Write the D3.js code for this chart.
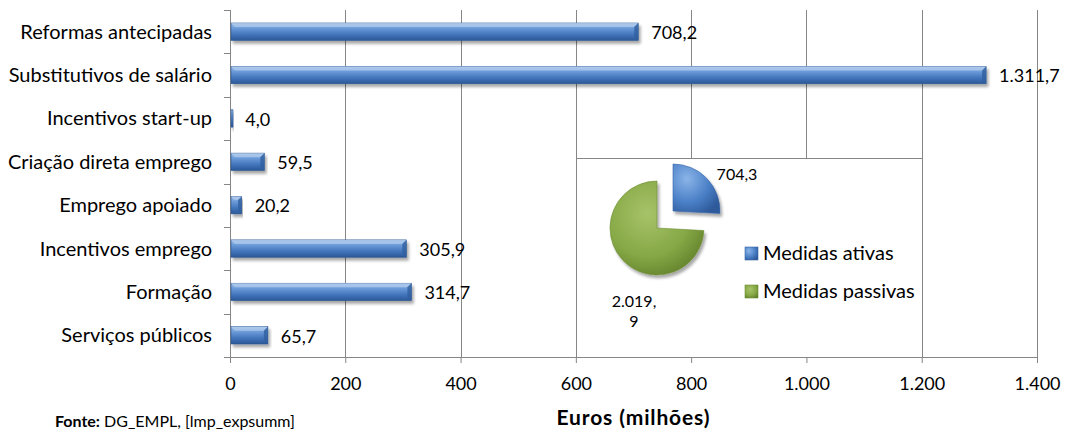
<!DOCTYPE html>
<html>
<head>
<meta charset="utf-8">
<script src="https://cdn.jsdelivr.net/npm/d3@7"></script>
<style>
  html, body { margin: 0; padding: 0; background: #fff; }
  svg { display: block; font-family: Lato, "Open Sans", sans-serif; }
</style>
</head>
<body>
<svg id="chart" width="1066" height="432"></svg>
<script>
// Expenditure by measure type (EUR millions)
const categories = [
  "Reformas antecipadas",
  "Substitutivos de salário",
  "Incentivos start-up",
  "Criação direta emprego",
  "Emprego apoiado",
  "Incentivos emprego",
  "Formação",
  "Serviços públicos"
];
const values = [708.2, 1311.7, 4.0, 59.5, 20.2, 305.9, 314.7, 65.7];
const valueLabels = ["708,2", "1.311,7", "4,0", "59,5", "20,2", "305,9", "314,7", "65,7"];

const xTicks = [0, 200, 400, 600, 800, 1000, 1200, 1400];
const xTickLabels = ["0", "200", "400", "600", "800", "1.000", "1.200", "1.400"];

// Inset pie: active vs passive measures
const pieNames = ["Medidas ativas", "Medidas passivas"];
const pieValues = [704.3, 2019.9];
const pieLabels = [["704,3"], ["2.019,", "9"]];

const svg = d3.select("#chart");
const defs = svg.append("defs");

const plot = { left: 230, right: 1037, top: 10, bottom: 357 };

const x = d3.scaleLinear().domain([0, 1400]).range([plot.left, plot.right]);
const y = d3.scaleBand().domain(categories).range([plot.top, plot.bottom]).paddingInner(0.6).paddingOuter(0.3);

// Gradients
const barGrad = defs.append("linearGradient").attr("id", "barGrad").attr("x1", 0).attr("y1", 0).attr("x2", 0).attr("y2", 1);
barGrad.append("stop").attr("offset", "0%").attr("stop-color", "#9dbfe9");
barGrad.append("stop").attr("offset", "30%").attr("stop-color", "#6b9ad8");
barGrad.append("stop").attr("offset", "65%").attr("stop-color", "#4376bd");
barGrad.append("stop").attr("offset", "100%").attr("stop-color", "#2b5797");

const shadow = defs.append("filter").attr("id", "shadow").attr("x", "-5%").attr("y", "-30%").attr("width", "115%").attr("height", "190%");
shadow.append("feGaussianBlur").attr("in", "SourceAlpha").attr("stdDeviation", 1.5);
shadow.append("feOffset").attr("dx", 1.5).attr("dy", 2.5).attr("result", "off");
shadow.append("feComponentTransfer").append("feFuncA").attr("type", "linear").attr("slope", 0.35);
const sm = shadow.append("feMerge");
sm.append("feMergeNode");
sm.append("feMergeNode").attr("in", "SourceGraphic");

// Vertical gridlines
svg.append("g").selectAll("line").data(xTicks.slice(1)).join("line")
  .attr("x1", d => Math.round(x(d)) + 0.5).attr("x2", d => Math.round(x(d)) + 0.5)
  .attr("y1", plot.top).attr("y2", plot.bottom)
  .attr("stroke", "#868686").attr("stroke-width", 1);

// X axis
const xAxis = d3.axisBottom(x).tickValues(xTicks).tickFormat((d, i) => xTickLabels[i]).tickSize(6).tickPadding(14);
const gx = svg.append("g").attr("transform", `translate(0,${plot.bottom})`).call(xAxis);
gx.select(".domain").attr("stroke", "#868686").attr("d", `M${plot.left},0.5H${plot.right}`);
gx.selectAll(".tick line").attr("stroke", "#868686");
gx.selectAll(".tick text").attr("font-size", 18).attr("fill", "#000").style("font-family", "Lato, sans-serif");

// Y axis (ticks at category boundaries)
const bandStep = (plot.bottom - plot.top) / categories.length;
const boundaries = d3.range(categories.length + 1).map(i => plot.top + i * bandStep);
svg.append("line").attr("x1", plot.left + 0.5).attr("x2", plot.left + 0.5)
  .attr("y1", plot.top).attr("y2", plot.bottom).attr("stroke", "#868686");
svg.append("g").selectAll("line").data(boundaries).join("line")
  .attr("x1", plot.left - 6).attr("x2", plot.left)
  .attr("y1", d => Math.round(d) + 0.5).attr("y2", d => Math.round(d) + 0.5)
  .attr("stroke", "#868686");

svg.append("g").selectAll("text").data(categories).join("text")
  .attr("x", plot.left - 18)
  .attr("y", d => y(d) + y.bandwidth() / 2)
  .attr("dy", "0.35em")
  .attr("text-anchor", "end")
  .attr("font-size", 20)
  .attr("fill", "#000")
  .text(d => d);

// Bars with bevelled ends
const bars = svg.append("g").selectAll("g").data(categories).join("g");
bars.append("rect")
  .attr("x", plot.left + 1)
  .attr("y", d => y(d))
  .attr("width", (d, i) => Math.max(2, x(values[i]) - plot.left - 1))
  .attr("height", y.bandwidth())
  .attr("fill", "url(#barGrad)")
  .attr("stroke", "#2a5590").attr("stroke-width", 0.6)
  .attr("filter", "url(#shadow)");
// bevel highlights
bars.append("path")
  .attr("d", (d, i) => {
    const x0 = plot.left + 1, x1 = x(values[i]), y0 = y(d);
    const b = Math.min(4, (x1 - x0) / 3);
    if (x1 - x0 < 4) return "";
    return `M${x0},${y0}L${x0 + b},${y0 + b}L${x1 - b},${y0 + b}L${x1},${y0}Z`;
  })
  .attr("fill", "#b3cdee").attr("opacity", 0.7);
bars.append("path")
  .attr("d", (d, i) => {
    const x0 = plot.left + 1, x1 = x(values[i]), y0 = y(d), h = y.bandwidth();
    const b = Math.min(4, (x1 - x0) / 3);
    if (x1 - x0 < 4) return "";
    return `M${x1},${y0}L${x1 - b},${y0 + b}L${x1 - b},${y0 + h - b}L${x1},${y0 + h}Z`;
  })
  .attr("fill", "#2f5f9f").attr("opacity", 0.8);

// Value labels
svg.append("g").selectAll("text").data(categories).join("text")
  .attr("x", (d, i) => x(values[i]) + 13)
  .attr("y", d => y(d) + y.bandwidth() / 2 + 1)
  .attr("dy", "0.35em")
  .attr("font-size", 18)
  .attr("fill", "#000")
  .text((d, i) => valueLabels[i]);

// Inset panel for the pie
const inset = { x0: Math.round(x(600)), x1: Math.round(x(1200)), y0: 158, y1: plot.bottom };
svg.append("rect")
  .attr("x", inset.x0 + 0.5).attr("y", inset.y0 + 0.5)
  .attr("width", inset.x1 - inset.x0).attr("height", inset.y1 - inset.y0)
  .attr("fill", "#fff").attr("stroke", "#868686");

const blueGrad = defs.append("radialGradient").attr("id", "pieBlue").attr("cx", "30%").attr("cy", "30%").attr("r", "80%");
blueGrad.append("stop").attr("offset", "0%").attr("stop-color", "#8ab4e8");
blueGrad.append("stop").attr("offset", "60%").attr("stop-color", "#4a7fc6");
blueGrad.append("stop").attr("offset", "100%").attr("stop-color", "#2d5a9a");
const greenGrad = defs.append("radialGradient").attr("id", "pieGreen").attr("cx", "40%").attr("cy", "35%").attr("r", "75%");
greenGrad.append("stop").attr("offset", "0%").attr("stop-color", "#a7c36a");
greenGrad.append("stop").attr("offset", "60%").attr("stop-color", "#86a845");
greenGrad.append("stop").attr("offset", "100%").attr("stop-color", "#5f7d2a");

const pie = d3.pie().sort(null).value(d => d);
const arcs = pie(pieValues);
const radius = 47;
const arc = d3.arc().innerRadius(0).outerRadius(radius);
const pieCenter = [657, 228];
const explode = [16, -17];
const pieG = svg.append("g").attr("filter", "url(#shadow)");
pieG.selectAll("path").data(arcs).join("path")
  .attr("transform", (d, i) => i === 0
    ? `translate(${pieCenter[0] + explode[0]},${pieCenter[1] + explode[1]})`
    : `translate(${pieCenter[0]},${pieCenter[1]})`)
  .attr("d", arc)
  .attr("fill", (d, i) => i === 0 ? "url(#pieBlue)" : "url(#pieGreen)")
  .attr("stroke", (d, i) => i === 0 ? "#3a67a8" : "#6e8f36").attr("stroke-width", 0.6);

// Pie labels
const pieLabelPos = [[737, 174], [634, 301]];
pieLabels.forEach((lines, i) => {
  const t = svg.append("text")
    .attr("x", pieLabelPos[i][0]).attr("y", pieLabelPos[i][1])
    .attr("text-anchor", "middle").attr("font-size", 16).attr("fill", "#000");
  lines.forEach((ln, j) => t.append("tspan").attr("x", pieLabelPos[i][0]).attr("dy", j === 0 ? "0.35em" : "1.3em").text(ln));
});

// Pie legend
const legend = svg.append("g").attr("transform", "translate(745,253)");
const legendFill = ["url(#pieBlue)", "url(#pieGreen)"];
pieNames.forEach((n, i) => {
  const g = legend.append("g").attr("transform", `translate(0,${i * 38})`);
  g.append("rect").attr("x", 0).attr("y", -6).attr("width", 13).attr("height", 13)
    .attr("fill", legendFill[i]).attr("stroke", i === 0 ? "#3a67a8" : "#6e8f36").attr("stroke-width", 0.6);
  g.append("text").attr("x", 18).attr("y", 0).attr("dy", "0.35em")
    .attr("font-size", 20).attr("fill", "#000").text(n);
});

// Axis title and source
svg.append("text").attr("x", 633).attr("y", 425).attr("text-anchor", "middle")
  .attr("font-size", 21).attr("font-weight", "bold").attr("fill", "#000")
  .attr("textLength", 153).attr("lengthAdjust", "spacing").text("Euros (milhões)");
const src = svg.append("text").attr("x", 55).attr("y", 427).attr("font-size", 16).attr("fill", "#000");
src.append("tspan").attr("font-weight", "bold").text("Fonte:");
src.append("tspan").text(" DG_EMPL, [lmp_expsumm]");
</script>
</body>
</html>
